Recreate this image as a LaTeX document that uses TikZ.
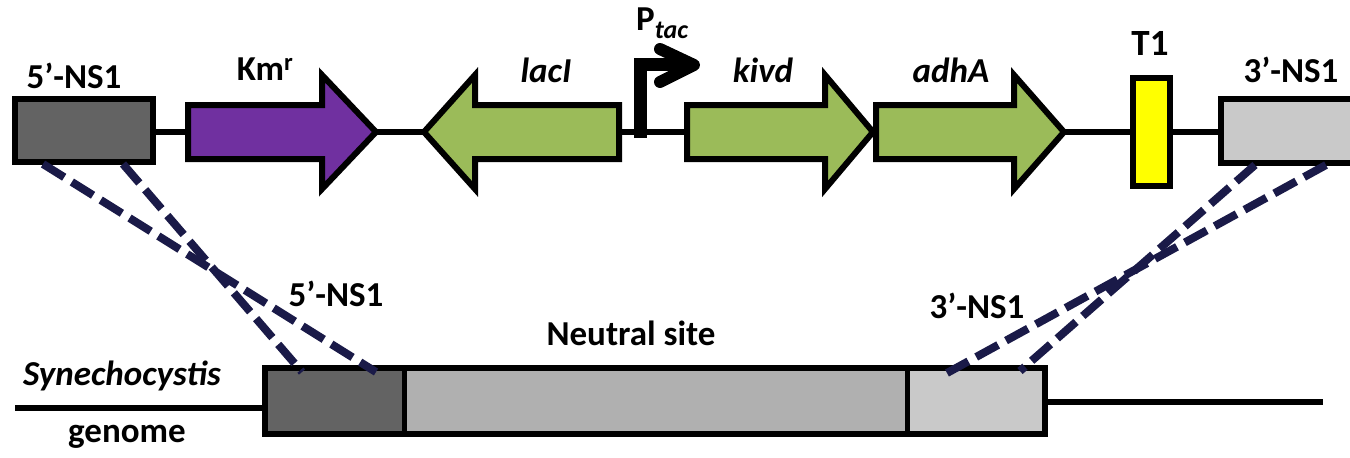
\documentclass[tikz,border=0pt]{standalone}
\usepackage{fontspec}
\setmainfont{Carlito}
\definecolor{kmpurple}{HTML}{7030A0}
\definecolor{genegreen}{HTML}{9BBB59}
\definecolor{tyellow}{HTML}{FFFF00}
\definecolor{dkgray}{HTML}{636363}
\definecolor{mdgray}{HTML}{B0B0B0}
\definecolor{ltgray}{HTML}{C9C9C9}
\definecolor{navy}{HTML}{1A1A48}
\begin{document}
\begin{tikzpicture}[x=1pt,y=-1pt,
  boxstyle/.style={draw=black, line width=6pt},
  genestyle/.style={draw=black, line width=6pt, line join=miter},
  backbone/.style={draw=black, line width=6pt},
  crossline/.style={draw=navy, line width=8pt, dash pattern=on 25pt off 9pt},
  lbl/.style={font=\fontsize{35}{40}\selectfont\bfseries, anchor=base, inner sep=0pt},
  ilbl/.style={lbl, font=\fontsize{35}{40}\selectfont\bfseries\itshape}]
\clip (0,0) rectangle (1350,458);
\fill[white] (0,0) rectangle (1350,458);

% ---- top construct ----
\draw[backbone] (150,132) -- (1225,132);

% 5'-NS1 box
\draw[boxstyle, fill=dkgray] (15,99) rectangle (153,162);
\coordinate (t5a) at (43,164);
\coordinate (t5b) at (123,164);

% Km^r arrow
\draw[genestyle, fill=kmpurple] (188,105) -- (322,105) -- (322,75) -- (376,132) -- (322,189) -- (322,159) -- (188,159) -- cycle;

% lacI arrow (leftward)
\draw[genestyle, fill=genegreen] (619,105) -- (475,105) -- (475,75) -- (424,132) -- (475,189) -- (475,159) -- (619,159) -- cycle;

% kivd arrow
\draw[genestyle, fill=genegreen] (687,105) -- (825,105) -- (825,75) -- (873,132) -- (825,189) -- (825,159) -- (687,159) -- cycle;

% adhA arrow
\draw[genestyle, fill=genegreen] (876,105) -- (1014,105) -- (1014,75) -- (1064,132) -- (1014,189) -- (1014,159) -- (876,159) -- cycle;

% promoter
\draw[line width=13pt, line join=miter] (640,138) -- (640,64) -- (688,64);
\draw[line width=12pt, line cap=round, line join=round] (660,49) -- (694,65) -- (660,82);

% T1 terminator
\draw[boxstyle, fill=tyellow] (1133,78) rectangle (1170,186);

% 3'-NS1 box
\draw[boxstyle, fill=ltgray] (1221,99) rectangle (1360,163);
\coordinate (t3a) at (1255,165);
\coordinate (t3b) at (1326,165);

% top labels
\node[lbl] (l5top) at (74,88) {5’-NS1};
\node[lbl] (lkm) at (265,80) {Km\textsuperscript{r}};
\node[ilbl] (llac) at (546,82) {lacI};
\node[lbl, anchor=base west] (lptac) at (636,30) {P\raisebox{-8pt}{\fontsize{26}{30}\selectfont\itshape tac}};
\node[ilbl] (lkivd) at (763,82) {kivd};
\node[ilbl] (ladh) at (951,82) {adhA};
\node[lbl, font=\fontsize{37}{42}\selectfont\bfseries] (lt1) at (1150,55) {T1};
\node[lbl] (l3top) at (1291,82) {3’-NS1};

% ---- genome ----
\draw[backbone] (15,408) -- (267,408);
\draw[backbone] (1043,402) -- (1323,402);
\fill[dkgray] (265,368) rectangle (404,434);
\fill[mdgray] (404,368) rectangle (907,434);
\fill[ltgray] (907,368) rectangle (1045,434);
\draw[boxstyle] (265,368) rectangle (1045,434);
\draw[line width=5pt] (404,368) -- (404,434);
\draw[line width=5pt] (907,368) -- (907,434);
\coordinate (g5a) at (376,372);
\coordinate (g5b) at (302,372);
\coordinate (g3a) at (1020,371);
\coordinate (g3b) at (947,373);

% crossover lines
\draw[crossline] (t5a) -- (g5a);
\draw[crossline] (t5b) -- (g5b);
\draw[crossline] (t3a) -- (g3a);
\draw[crossline] (t3b) -- (g3b);

% bottom labels
\node[lbl] (l5bot) at (336,306) {5’-NS1};
\node[lbl] (lns) at (631,345) {Neutral site};
\node[lbl] (l3bot) at (977,318) {3’-NS1};
\node[ilbl] (lsyn) at (122,385) {Synechocystis};
\node[lbl] (lgen) at (127,442) {genome};
\end{tikzpicture}
\end{document}
